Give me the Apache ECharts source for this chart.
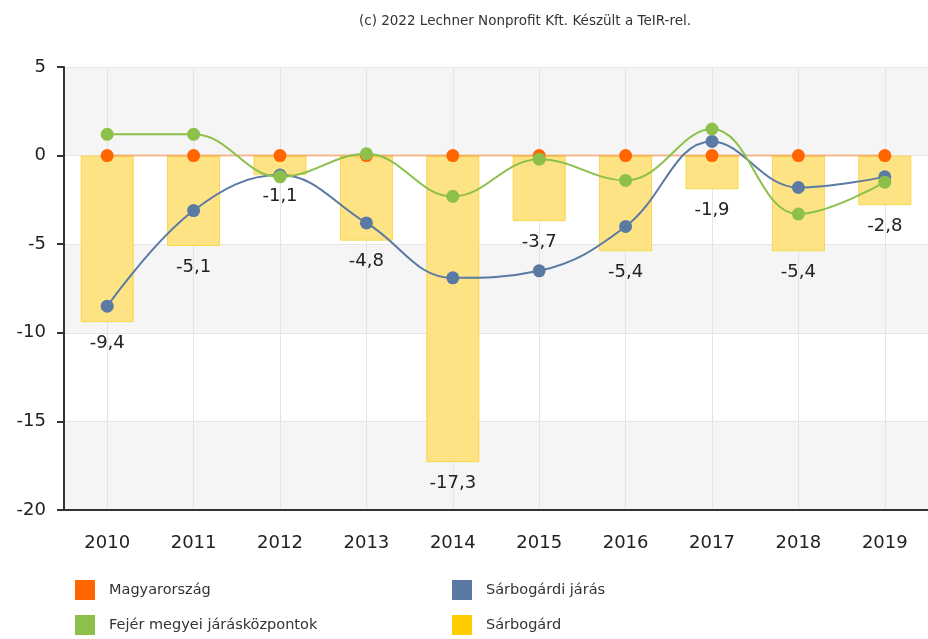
<!DOCTYPE html>
<html>
<head>
<meta charset="utf-8">
<script src="https://cdn.jsdelivr.net/npm/echarts@6/dist/echarts.min.js"></script>
<style>
  html, body { margin: 0; padding: 0; background: #fff; }
  #chart { width: 928px; height: 639px; }
</style>
</head>
<body>
<div id="chart"></div>
<script>
// Years on the category axis
const years = ['2010', '2011', '2012', '2013', '2014', '2015', '2016', '2017', '2018', '2019'];

// Series values
const magyarorszag = [0, 0, 0, 0, 0, 0, 0, 0, 0, 0];
const sarbogardiJaras = [-8.5, -3.1, -1.1, -3.8, -6.9, -6.5, -4.0, 0.8, -1.8, -1.2];
const fejerKozpontok = [1.2, 1.2, -1.2, 0.1, -2.3, -0.2, -1.4, 1.5, -3.3, -1.5];
const sarbogard = [-9.4, -5.1, -1.1, -4.8, -17.3, -3.7, -5.4, -1.9, -5.4, -2.8];

// Value axis ticks
const yTicks = { min: -20, max: 5, interval: 5 };

const FONT = '"DejaVu Sans", Verdana, sans-serif';
const fmt = v => String(v).replace('.', ',');

// Legend entries: name, swatch colour, position
const legendItems = [
  { name: 'Magyarország', color: '#ff6600', left: 75, top: 580 },
  { name: 'Fejér megyei járásközpontok', color: '#8dc04a', left: 75, top: 615 },
  { name: 'Sárbogárdi járás', color: '#5b7aa3', left: 452, top: 580 },
  { name: 'Sárbogárd', color: '#ffcc00', left: 452, top: 615 }
];

const chart = echarts.init(document.getElementById('chart'), null, { renderer: 'canvas' });

chart.setOption({
  animation: false,
  backgroundColor: '#ffffff',
  title: {
    text: '(c) 2022 Lechner Nonprofit Kft. Készült a TeIR-rel.',
    left: 520,
    textAlign: 'center',
    top: 9,
    textStyle: { fontFamily: FONT, fontSize: 13.5, fontWeight: 'normal', color: '#333' }
  },
  legend: legendItems.map(it => ({
    left: it.left,
    top: it.top,
    padding: 0,
    itemWidth: 20,
    itemHeight: 20,
    icon: 'rect',
    selectedMode: false,
    textStyle: { fontFamily: FONT, fontSize: 14.5, color: '#333', padding: [3, 0, 0, 9] },
    data: [{ name: it.name, itemStyle: { color: it.color, borderWidth: 0 } }]
  })),
  grid: { left: 64, right: -7, top: 67, bottom: 129, containLabel: false },
  xAxis: {
    type: 'category',
    data: years,
    boundaryGap: true,
    axisLine: { onZero: false, lineStyle: { color: '#333', width: 2 } },
    axisTick: { alignWithLabel: true, length: 7, lineStyle: { color: '#333', width: 2 } },
    axisLabel: { fontFamily: FONT, fontSize: 18, color: '#222', margin: 24 },
    splitLine: { show: true, alignWithLabel: true, lineStyle: { color: '#e4e4e4', width: 1 } }
  },
  yAxis: {
    type: 'value',
    min: yTicks.min,
    max: yTicks.max,
    interval: yTicks.interval,
    axisLine: { show: true, lineStyle: { color: '#333', width: 2 } },
    axisTick: { show: true, length: 7, lineStyle: { color: '#333', width: 2 } },
    axisLabel: { fontFamily: FONT, fontSize: 18, color: '#222', margin: 18 },
    splitLine: { show: true, lineStyle: { color: '#e6e6e6', width: 1 } },
    splitArea: { show: true, areaStyle: { color: ['#f5f5f5', '#ffffff'] } }
  },
  series: [
    {
      name: 'Sárbogárd',
      type: 'bar',
      data: sarbogard,
      barWidth: 53,
      z: 1,
      itemStyle: { color: '#fde384', borderColor: '#f6d84a', borderWidth: 1 },
      label: {
        show: true,
        position: 'bottom',
        distance: 12,
        fontFamily: FONT,
        fontSize: 18,
        color: '#222',
        formatter: p => fmt(p.value)
      }
    },
    {
      name: 'Magyarország',
      type: 'line',
      data: magyarorszag,
      z: 3,
      symbol: 'circle',
      symbolSize: 13,
      color: '#ff6600',
      itemStyle: { color: '#ff6600' },
      lineStyle: { color: '#ff6600', width: 2, opacity: 0.4 }
    },
    {
      name: 'Sárbogárdi járás',
      type: 'line',
      data: sarbogardiJaras,
      z: 4,
      smooth: 0.4,
      symbol: 'circle',
      symbolSize: 13,
      color: '#5b7aa3',
      itemStyle: { color: '#5b7aa3' },
      lineStyle: { color: '#5b7aa3', width: 2 }
    },
    {
      name: 'Fejér megyei járásközpontok',
      type: 'line',
      data: fejerKozpontok,
      z: 5,
      smooth: 0.4,
      symbol: 'circle',
      symbolSize: 13,
      color: '#8dc04a',
      itemStyle: { color: '#8dc04a' },
      lineStyle: { color: '#8dc04a', width: 2 }
    }
  ]
});
</script>
</body>
</html>
